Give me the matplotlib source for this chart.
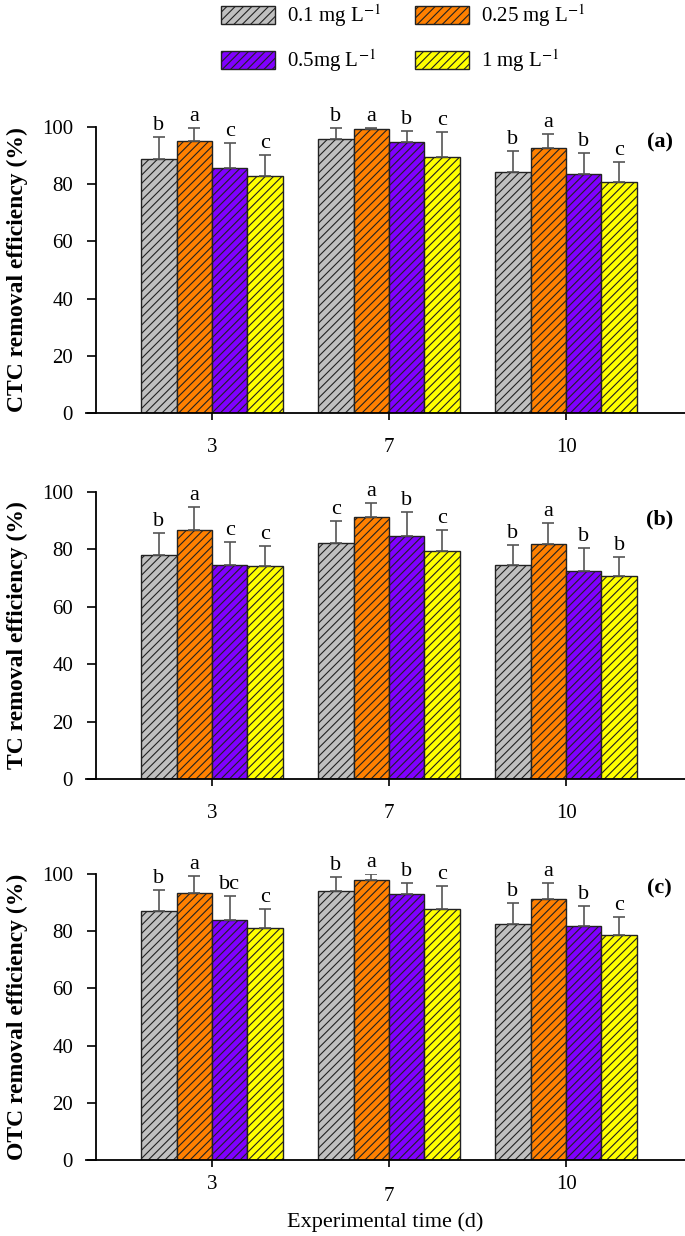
import numpy as np
import matplotlib.pyplot as plt
from matplotlib.patches import Patch

plt.rcParams['font.family'] = ['Liberation Serif', 'DejaVu Serif']
plt.rcParams['mathtext.fontset'] = 'stix'
plt.rcParams['hatch.linewidth'] = 0.8

days = ['3', '7', '10']
doses = ['0.1 mg L$^{-1}$', '0.25 mg L$^{-1}$', '0.5mg L$^{-1}$', '1 mg L$^{-1}$']
colors = ['#c0c0c0', '#ff8000', '#8000ff', '#ffff00']

# CTC removal (%)
ctc_mean = [[88.8, 95.8, 84.3],
            [95.1, 99.2, 92.6],
            [85.7, 94.7, 83.6],
            [82.9, 89.5, 80.8]]
ctc_err = [[7.7, 3.8, 7.3],
           [4.5, 0.3, 4.9],
           [8.7, 3.9, 7.3],
           [7.3, 8.7, 7.0]]
ctc_lett = [['b', 'b', 'b'], ['a', 'a', 'a'], ['c', 'b', 'b'], ['c', 'c', 'c']]

# TC removal (%)
tc_mean = [[78.0, 82.2, 74.6],
           [86.8, 91.3, 81.9],
           [74.6, 84.7, 72.5],
           [74.2, 79.4, 70.7]]
tc_err = [[7.7, 7.7, 6.9],
          [8.0, 4.9, 7.3],
          [8.0, 8.3, 8.0],
          [7.0, 7.4, 6.7]]
tc_lett = [['b', 'c', 'b'], ['a', 'a', 'a'], ['c', 'b', 'b'], ['c', 'c', 'b']]

# OTC removal (%)
otc_mean = [[87.1, 94.1, 82.5],
            [93.4, 97.9, 91.3],
            [83.9, 93.0, 81.8],
            [81.1, 87.8, 78.7]]
otc_err = [[7.3, 4.9, 7.4],
           [5.9, 2.1, 5.5],
           [8.4, 3.8, 7.0],
           [6.7, 8.0, 6.3]]
otc_lett = [['b', 'b', 'b'], ['a', 'a', 'a'], ['bc', 'b', 'b'], ['c', 'c', 'c']]

panels = [
    ('CTC removal efficiency (%)', ctc_mean, ctc_err, ctc_lett, '(a)', 0.98),
    ('TC removal efficiency (%)', tc_mean, tc_err, tc_lett, '(b)', 0.94),
    ('OTC removal efficiency (%)', otc_mean, otc_err, otc_lett, '(c)', 0.985),
]

fig = plt.figure(figsize=(6.85, 12.36), dpi=100)
W, H = 685.0, 1236.0
# (bottom px, top px) for each panel
rows = [(413, 127), (779, 492), (1160, 874)]

x = np.arange(len(days))
bw = 0.2

for k, (ylab, mean, err, lett, tag, ty) in enumerate(panels):
    b, t = rows[k]
    ax = fig.add_axes([86 / W, 1 - b / H, 599 / W, (b - t) / H])
    for j in range(4):
        xs = x + (j - 1.5) * bw
        ax.bar(xs, mean[j], bw, color=colors[j], edgecolor='#222222',
               linewidth=1.0, hatch='////', zorder=2)
        ax.errorbar(xs, mean[j], yerr=[np.zeros(3), err[j]], fmt='none',
                    ecolor='#555555', elinewidth=1.2, capsize=4.5,
                    capthick=1.2, zorder=3)
        for i in range(3):
            ax.text(xs[i], mean[j][i] + err[j][i] + 0.8, lett[j][i],
                    ha='center', va='bottom', fontsize=16)
    ax.set_xlim(-0.712, 2.672)
    ax.set_ylim(0, 100)
    ax.set_yticks([0, 20, 40, 60, 80, 100])
    ax.set_xticks(x)
    ax.set_xticklabels(days)
    ax.spines['top'].set_visible(False)
    ax.spines['right'].set_visible(False)
    ax.spines['left'].set_position(('axes', 10 / 599))
    ax.spines['left'].set_linewidth(1.3)
    ax.spines['bottom'].set_linewidth(1.3)
    ax.tick_params(axis='y', direction='out', length=6.5, width=1.2,
                   pad=10, labelsize=15)
    ax.tick_params(axis='x', direction='out', length=5, width=1.2,
                   pad=13 if k < 2 else 6, labelsize=15)
    ax.set_ylabel(ylab, fontsize=17, fontweight='bold')
    ax.yaxis.set_label_coords(-0.097, 0.5)
    ax.text(0.958, ty, tag, transform=ax.transAxes, ha='center', va='top',
            fontsize=16, fontweight='bold')
    if k == 2:
        ax.get_xticklabels()[1].set_y(-0.04)
        ax.set_xlabel('Experimental time (d)', fontsize=16, labelpad=5)

handles = [Patch(facecolor=colors[j], edgecolor='#222222', hatch='////',
                 linewidth=1.0) for j in range(4)]
order = [0, 2, 1, 3]
fig.legend([handles[j] for j in order], [doses[j] for j in order],
           loc='upper left', bbox_to_anchor=(208 / W, 1.008),
           ncol=2, frameon=False, fontsize=15, handlelength=2.6,
           handleheight=0.95, labelspacing=0.85, columnspacing=1.6,
           handletextpad=0.6, borderpad=0.1)

fig.savefig('out.png', dpi=100)
